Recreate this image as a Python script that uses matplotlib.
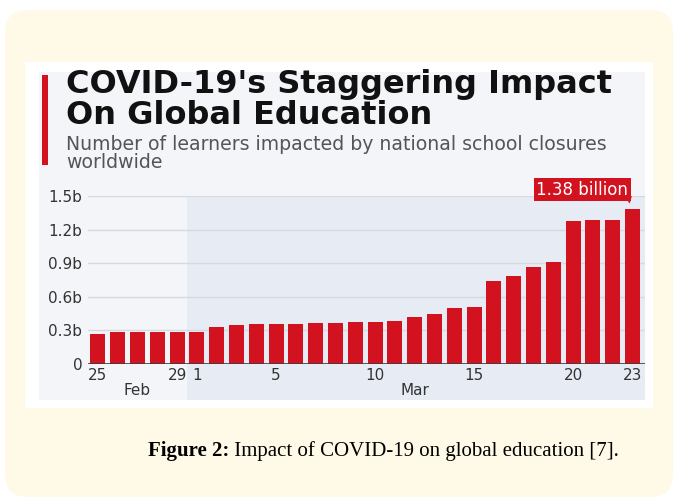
import matplotlib
matplotlib.use("Agg")
import matplotlib.pyplot as plt
from matplotlib.patches import FancyBboxPatch, Rectangle, Polygon
from matplotlib import transforms

# learners impacted by national school closures (billions), 25 Feb - 23 Mar 2020
days = [25, 26, 27, 28, 29] + list(range(1, 24))
months = ["Feb"] * 5 + ["Mar"] * 23
learners = [0.27, 0.29, 0.29, 0.29, 0.29, 0.29, 0.33, 0.35, 0.36, 0.36,
            0.36, 0.37, 0.37, 0.375, 0.375, 0.385, 0.42, 0.445, 0.50, 0.505,
            0.745, 0.79, 0.865, 0.91, 1.28, 1.285, 1.285, 1.38]
labelled_days = [25, 29, 1, 5, 10, 15, 20, 23]
y_ticks = [0, 0.3, 0.6, 0.9, 1.2, 1.5]
y_labels = ["0", "0.3b", "0.6b", "0.9b", "1.2b", "1.5b"]

RED = "#d2121f"
W, H = 674, 500

fig = plt.figure(figsize=(W / 100, H / 100), dpi=100)
fig.patch.set_facecolor("white")
inch = fig.dpi_scale_trans


def box(x0, y0, x1, y1):
    # pixel box (top-left origin) -> inches from bottom-left
    return x0 / 100, (H - y1) / 100, (x1 - x0) / 100, (y1 - y0) / 100


x, y, w, h = box(5, 10, 673, 497)
fig.patches.append(FancyBboxPatch((x, y), w, h, boxstyle="round,pad=0,rounding_size=0.22",
                                  transform=inch, fc="#fffae8", ec="none", zorder=-5))
x, y, w, h = box(25, 62, 653, 408)
fig.patches.append(Rectangle((x, y), w, h, transform=inch, fc="white", ec="none", zorder=-4))
x, y, w, h = box(39, 72, 645, 400)
fig.patches.append(Rectangle((x, y), w, h, transform=inch, fc="#f3f5f9", ec="none", zorder=-3))
x, y, w, h = box(42, 75, 48, 165)
fig.patches.append(Rectangle((x, y), w, h, transform=inch, fc=RED, ec="none", zorder=-2))

fig.text(66 / W, 1 - 69 / H, "COVID-19's Staggering Impact\nOn Global Education",
         fontsize=23, fontweight="bold", color="#111111", va="top", ha="left",
         linespacing=0.98, family="DejaVu Sans")
fig.text(66 / W, 1 - 135 / H, "Number of learners impacted by national school closures\nworldwide",
         fontsize=13.6, color="#555555", va="top", ha="left", linespacing=0.92,
         family="DejaVu Sans")

ax = fig.add_axes([88 / W, 136 / H, 557 / W, 168 / H])
ax.set_facecolor("none")
idx = list(range(len(learners)))
ax.bar(idx, learners, width=0.76, color=RED, zorder=2)
ax.set_xlim(-0.5, 27.63)
ax.set_ylim(0, 1.5)

# March shading, running from the top gridline down past the month labels
first_mar = months.index("Mar")
shade = transforms.blended_transform_factory(ax.transData, fig.transFigure)
ax.add_patch(Rectangle((first_mar - 0.5, 1 - 400 / H), ax.get_xlim()[1] - first_mar + 0.5,
                       (400 - 196) / H, transform=shade, fc="#e7ecf4", ec="none",
                       zorder=0.1, clip_on=False))

ax.set_yticks(y_ticks)
ax.set_yticklabels(y_labels)
tick_pos = [i for i, d in enumerate(days) if d in labelled_days]
ax.set_xticks(tick_pos)
ax.set_xticklabels([str(days[i]) for i in tick_pos])
ax.tick_params(length=0, labelsize=11, labelcolor="#333333")
ax.tick_params(axis="x", pad=3)
ax.tick_params(axis="y", pad=4)
for s in ax.spines.values():
    s.set_visible(False)
for v in y_ticks[1:]:
    ax.axhline(v, color="#d6d9de", lw=1, zorder=0.5)
ax.axhline(0, color="#3c3c3c", lw=1.2, zorder=3)

for m in ["Feb", "Mar"]:
    pos = [i for i, mm in enumerate(months) if mm == m]
    ax.text(sum(pos) / len(pos), -0.155, m, transform=ax.get_xaxis_transform(),
            ha="center", va="center", fontsize=11, color="#333333")

# callout on the last bar
last = len(learners) - 1
ax.annotate(f"{learners[-1]:.2f} billion", xy=(last, learners[-1]), xytext=(-3, 14.3),
            textcoords="offset points", ha="right", va="center", fontsize=12,
            color="white", bbox=dict(boxstyle="square,pad=0.15", fc=RED, ec="none"),
            annotation_clip=False, zorder=4)
tip = transforms.Affine2D().scale(fig.dpi / 72) + transforms.ScaledTranslation(
    last, learners[-1], ax.transData)
ax.add_patch(Polygon([(-6, 9.6), (-0.5, 9.6), (-2, 4.2)], closed=True, transform=tip,
                     fc=RED, ec="none", clip_on=False, zorder=4))

# caption: bold label, then the plain text continuing on the same line
cap = fig.text(148 / W, 1 - 451 / H, "Figure 2:", ha="left", va="center", fontsize=15,
               fontweight="bold", color="black", family="Liberation Serif")
fig.add_artist(plt.Annotation(" Impact of COVID-19 on global education [7].", xy=(1, 0),
                              xycoords=cap, va="bottom", ha="left", fontsize=15,
                              color="black", family="Liberation Serif"))

fig.savefig("out.png", dpi=100)
